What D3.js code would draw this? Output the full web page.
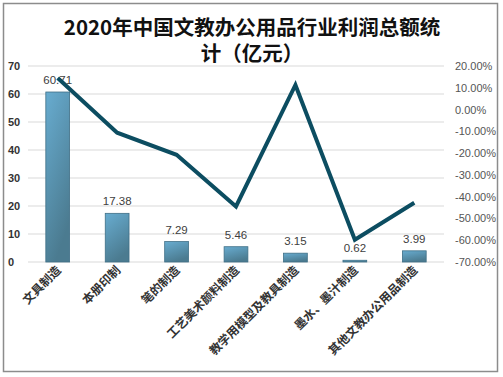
<!DOCTYPE html>
<html>
<head>
<meta charset="utf-8">
<script src="https://cdn.jsdelivr.net/npm/d3@7"></script>
<style>
  body { margin: 0; background: #fff; }
  svg { display: block; }
</style>
</head>
<body>
<svg id="chart" width="503" height="377"></svg>
<script>
// data
var categories = ["文具制造","本册印制","笔的制造","工艺美术颜料制造","教学用模型及教具制造","墨水、墨汁制造","其他文教办公用品制造"];
var profit = [60.71, 17.38, 7.29, 5.46, 3.15, 0.62, 3.99];
var growth = [14.5, -10.6, -20.8, -44.5, 11.3, -59.8, -42.8];
var leftTicks = [0,10,20,30,40,50,60,70];
var rightTicks = [20,10,0,-10,-20,-30,-40,-50,-60,-70];

var svg = d3.select("#chart");
var plotLeft = 28, plotRight = 444, plotTop = 66, plotBottom = 262;

// frame
svg.append("rect")
  .attr("x",3.5).attr("y",3.5)
  .attr("width",494).attr("height",368)
  .attr("fill","#fff")
  .attr("stroke","#8c8c8c")
  .attr("stroke-width",1.5);

var defs = svg.append("defs");
var grad = defs.append("linearGradient")
  .attr("id","barGrad")
  .attr("x1","0").attr("y1","0").attr("x2","0.4").attr("y2","1");
grad.append("stop").attr("offset","0%").attr("stop-color","#68acd0");
grad.append("stop").attr("offset","100%").attr("stop-color","#4b7b90");

var x = d3.scaleBand().domain(categories).range([plotLeft,plotRight]).paddingInner(0.6).paddingOuter(0.3);
var xc = d3.scaleBand().domain(categories).range([plotLeft,plotRight]);
var y = d3.scaleLinear().domain([0,70]).range([plotBottom,plotTop]);
var y2 = d3.scaleLinear().domain([-70,20]).range([plotBottom,plotTop]);

// gridlines
svg.append("g").selectAll("line")
  .data(leftTicks)
  .join("line")
  .attr("x1",plotLeft).attr("x2",plotRight)
  .attr("y1",function(d){ return y(d); })
  .attr("y2",function(d){ return y(d); })
  .attr("stroke","#d9d9d9")
  .attr("stroke-width",1);

// left axis
var gl = svg.append("g")
  .attr("transform","translate(" + 20 + ",0)")
  .call(d3.axisLeft(y).tickValues(leftTicks).tickSize(0).tickPadding(0));
gl.select(".domain").remove();
gl.selectAll("text")
  .attr("font-family","Liberation Sans, Arial, sans-serif")
  .attr("font-size",11)
  .attr("font-weight","bold")
  .attr("fill","#333")
  .attr("text-anchor","start")
  .attr("x",-12);

// right axis
var gr = svg.append("g")
  .attr("transform","translate(" + 455 + ",0)")
  .call(d3.axisRight(y2).tickValues(rightTicks).tickSize(0).tickPadding(0)
    .tickFormat(function(d){ return d.toFixed(2) + "%"; }));
gr.select(".domain").remove();
gr.selectAll("text")
  .attr("font-family","Liberation Sans, Arial, sans-serif")
  .attr("font-size",11)
  .attr("fill","#555");

// bars
svg.append("g").selectAll("rect")
  .data(profit)
  .join("rect")
  .attr("x",function(d,i){ return x(categories[i]); })
  .attr("y",function(d){ return y(d); })
  .attr("width",x.bandwidth())
  .attr("height",function(d){ return plotBottom - y(d); })
  .attr("fill","url(#barGrad)")
  .attr("stroke","#3f6f86")
  .attr("stroke-width",0.8);

// bar labels
svg.append("g").selectAll("text")
  .data(profit)
  .join("text")
  .attr("x",function(d,i){ return x(categories[i]) + x.bandwidth()/2; })
  .attr("y",function(d){ return y(d) - 8; })
  .attr("text-anchor","middle")
  .attr("font-family","Liberation Sans, Arial, sans-serif")
  .attr("font-size",11.5)
  .attr("fill","#404040")
  .text(function(d){ return d.toFixed(2); });

// growth line
var line = d3.line()
  .x(function(d,i){ return x(categories[i]) + x.bandwidth()/2; })
  .y(function(d){ return y2(d); });
svg.append("path")
  .datum(growth)
  .attr("d",line)
  .attr("fill","none")
  .attr("stroke","#0c4d61")
  .attr("stroke-width",4)
  .attr("stroke-linejoin","miter");

// category labels
svg.append("g").selectAll("text")
  .data(categories)
  .join("text")
  .attr("transform",function(d){
    return "translate(" + (xc(d) + xc.bandwidth()/2 + 4) + "," + 271 + ") rotate(-45)";
  })
  .attr("text-anchor","end")
  .attr("font-family","Noto Sans CJK SC, sans-serif")
  .attr("font-size",12)
  .attr("font-weight","bold")
  .attr("fill","#333")
  .text(function(d){ return d; });

// title
var title = svg.append("text")
  .attr("text-anchor","middle")
  .attr("font-family","Noto Sans CJK SC, sans-serif")
  .attr("font-size",20.5)
  .attr("font-weight","bold")
  .attr("fill","#111");
title.append("tspan").attr("x",252).attr("y",35).text("2020年中国文教办公用品行业利润总额统");
title.append("tspan").attr("x",252).attr("y",61).text("计（亿元）");
</script>
</body>
</html>
